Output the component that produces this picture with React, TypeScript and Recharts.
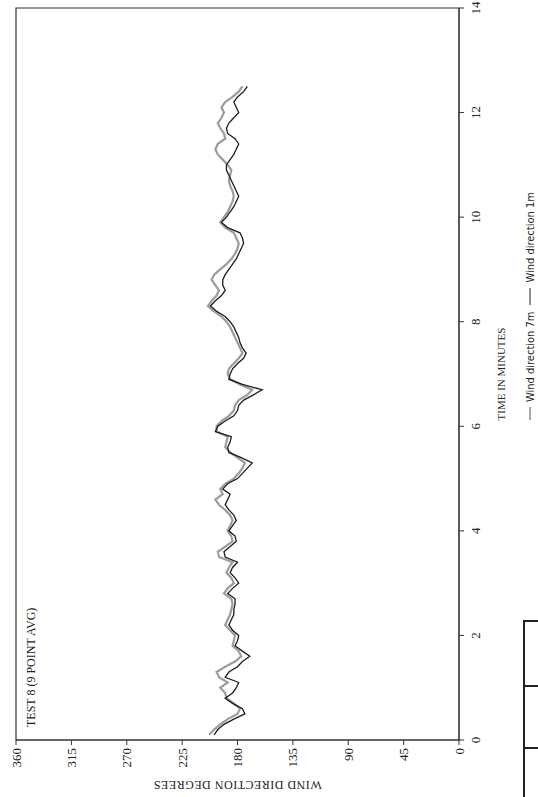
import { LineChart, Line, XAxis, YAxis, ReferenceArea, Legend } from "recharts";

// time in minutes (every 0.1 min)
const minutes = [
  0.1, 0.2, 0.3, 0.4, 0.5, 0.6, 0.7, 0.8, 0.9, 1.0,
  1.1, 1.2, 1.3, 1.4, 1.5, 1.6, 1.7, 1.8, 1.9, 2.0,
  2.1, 2.2, 2.3, 2.4, 2.5, 2.6, 2.7, 2.8, 2.9, 3.0,
  3.1, 3.2, 3.3, 3.4, 3.5, 3.6, 3.7, 3.8, 3.9, 4.0,
  4.1, 4.2, 4.3, 4.4, 4.5, 4.6, 4.7, 4.8, 4.9, 5.0,
  5.1, 5.2, 5.3, 5.4, 5.5, 5.6, 5.7, 5.8, 5.9, 6.0,
  6.1, 6.2, 6.3, 6.4, 6.5, 6.6, 6.7, 6.8, 6.9, 7.0,
  7.1, 7.2, 7.3, 7.4, 7.5, 7.6, 7.7, 7.8, 7.9, 8.0,
  8.1, 8.2, 8.3, 8.4, 8.5, 8.6, 8.7, 8.8, 8.9, 9.0,
  9.1, 9.2, 9.3, 9.4, 9.5, 9.6, 9.7, 9.8, 9.9, 10.0,
  10.1, 10.2, 10.3, 10.4, 10.5, 10.6, 10.7, 10.8, 10.9, 11.0,
  11.1, 11.2, 11.3, 11.4, 11.5, 11.6, 11.7, 11.8, 11.9, 12.0,
  12.1, 12.2, 12.3, 12.4, 12.5,
];

// wind direction at 7m (grey trace), degrees
const windDir7m = [
  203, 199, 194, 188, 180, 178, 183, 189, 190, 194,
  188, 195, 197, 190, 182, 177, 179, 184, 183, 182,
  186, 190, 188, 186, 185, 184, 185, 191, 188, 183,
  185, 189, 187, 184, 195, 196, 190, 184, 185, 188,
  186, 184, 186, 190, 195, 198, 192, 194, 190, 183,
  179, 176, 174, 180, 186, 190, 189, 188, 197, 197,
  193, 187, 183, 182, 179, 172, 168, 178, 186, 188,
  187, 183, 179, 176, 178, 180, 182, 184, 186, 189,
  193, 199, 204, 201, 197, 195, 198, 201, 199, 194,
  189, 185, 182, 180, 179, 181, 183, 190, 194, 191,
  188, 186, 184, 183, 184, 186, 187, 186, 185, 188,
  192, 196, 198, 196, 190, 191, 194, 196, 193, 191,
  193, 190, 184, 179, 176,
];

// wind direction at 1m (black trace), degrees
const windDir1m = [
  199, 196, 191, 183, 174, 176, 184, 190, 184, 181,
  179, 190, 187, 180, 176, 170, 176, 182, 180, 179,
  184, 187, 185, 183, 183, 182, 182, 188, 184, 179,
  182, 186, 184, 180, 190, 191, 186, 181, 182, 187,
  184, 181, 183, 187, 190, 188, 186, 192, 188, 180,
  176, 172, 168, 177, 187, 188, 186, 185, 198, 196,
  190, 183, 180, 179, 175, 167, 160, 176, 187, 186,
  184, 180, 175, 173, 176, 178, 179, 181, 183, 186,
  190, 197, 202, 198, 193, 190, 192, 192, 190, 187,
  184, 181, 179, 177, 175, 176, 178, 188, 193, 189,
  186, 183, 181, 179, 181, 183, 185, 187, 189, 189,
  186, 183, 181, 179, 182, 188, 189, 187, 183, 179,
  181, 183, 180, 175, 172,
];

const timeTicks = [0, 2, 4, 6, 8, 10, 12, 14];
const degreeTicks = [0, 45, 90, 135, 180, 225, 270, 315, 360];

const seriesNames = ["Wind direction 7m", "Wind direction 1m"];
const chartTitle = "TEST 8 (9 POINT AVG)";
const timeTitle = "TIME IN MINUTES";
const degreeTitle = "WIND DIRECTION DEGREES";

const data = minutes.map((t, i) => ({ t, w7: windDir7m[i], w1: windDir1m[i] }));

const serif = "'Liberation Serif', 'Times New Roman', serif";
const narrow = "'Liberation Sans Narrow', 'DejaVu Sans Condensed', 'Liberation Sans', sans-serif";
const ink = "#222";

// chart is drawn landscape, then the whole thing is turned a quarter turn
const W = 797;
const H = 538;

const DegreeTitle = (props: any) => {
  const { x, y, height } = props.viewBox;
  const cx = x + 12;
  const cy = y + height / 2;
  return (
    <text x={cx} y={cy} transform={`rotate(-90 ${cx} ${cy})`} textAnchor="middle" dominantBaseline="central"
      style={{ fontFamily: serif, fontSize: 12, fill: ink, letterSpacing: 0.5 }}>
      {degreeTitle}
    </text>
  );
};

const TimeTitle = (props: any) => {
  const { x, y, width } = props.viewBox;
  return (
    <text x={x + width / 2} y={y + 42} textAnchor="middle" dominantBaseline="central"
      style={{ fontFamily: serif, fontSize: 11, fill: ink }}>
      {timeTitle}
    </text>
  );
};

const PlotTitle = (props: any) => {
  const { x, y } = props.viewBox;
  return (
    <text x={x + 13} y={y + 15} dominantBaseline="central" style={{ fontFamily: serif, fontSize: 12, fill: ink }}>
      {chartTitle}
    </text>
  );
};

const NoTick = () => <g />;

const LegendRow = () => (
  <div style={{
    position: "absolute", left: 377, top: 530, transform: "translateY(-50%)",
    display: "flex", alignItems: "center", whiteSpace: "nowrap",
    fontFamily: narrow, fontSize: 11, color: ink,
  }}>
    {seriesNames.map((name, i) => (
      <span key={name} style={{ display: "inline-flex", alignItems: "center", marginLeft: i ? 7 : 0 }}>
        <span style={{ display: "inline-block", width: i ? 17 : 13, borderTop: `1.5px solid ${i ? ink : "#555"}`, marginRight: 5 }} />
        {name}
      </span>
    ))}
  </div>
);

export default function App() {
  return (
    <div style={{ position: "absolute", left: 0, top: 0, width: 538, height: 797, overflow: "hidden", background: "#fff" }}>
      <div style={{
        position: "absolute", left: 0, top: 0, width: W, height: H,
        transformOrigin: "0 0", transform: `translate(0px, ${W}px) rotate(-90deg)`,
      }}>
        <LineChart width={W} height={H} data={data} margin={{ top: 16, right: 8, left: 0, bottom: 19 }}>
          {/* inner halves of the tick marks */}
          <XAxis xAxisId="in" dataKey="t" type="number" domain={[0, 14]} ticks={timeTicks} interval={0}
            mirror height={0} axisLine={false} stroke="#333" tickSize={5} tick={NoTick} />
          <YAxis yAxisId="in" type="number" domain={[0, 360]} ticks={degreeTicks} interval={0}
            mirror width={0} axisLine={false} stroke="#333" tickSize={5} tick={NoTick} />
          <XAxis dataKey="t" type="number" domain={[0, 14]} ticks={timeTicks} interval={0} height={60}
            stroke="#333" tickSize={5} tickMargin={7}
            tick={{ fontFamily: serif, fontSize: 13, fill: ink }}
            label={{ content: TimeTitle }} />
          <YAxis type="number" domain={[0, 360]} ticks={degreeTicks} interval={0} width={57}
            stroke="#333" tickSize={5} tickMargin={3}
            tick={{ fontFamily: serif, fontSize: 13, fill: ink }}
            label={{ content: DegreeTitle }} />
          <ReferenceArea x1={0} x2={14} y1={0} y2={360} fill="none" stroke="#333" strokeWidth={1.2}
            label={{ content: PlotTitle }} />
          <Line name={seriesNames[0]} dataKey="w7" type="linear" stroke="#9c9c9c" strokeWidth={2.2}
            dot={false} isAnimationActive={false} />
          <Line name={seriesNames[1]} dataKey="w1" type="linear" stroke="#1c1c1c" strokeWidth={1.3}
            dot={false} isAnimationActive={false} />
          <Legend content={LegendRow}
            wrapperStyle={{ position: "absolute", left: 0, top: 0, width: 0, height: 0, overflow: "visible" }} />
        </LineChart>
      </div>
      {/* part of a table that shows at the page corner */}
      <div style={{ position: "absolute", left: 523, top: 620, width: 40, height: 200, border: `2px solid ${ink}` }} />
      <div style={{ position: "absolute", left: 523, top: 685, width: 20, borderTop: `2px solid ${ink}` }} />
      <div style={{ position: "absolute", left: 523, top: 747, width: 20, borderTop: `2px solid ${ink}` }} />
    </div>
  );
}
